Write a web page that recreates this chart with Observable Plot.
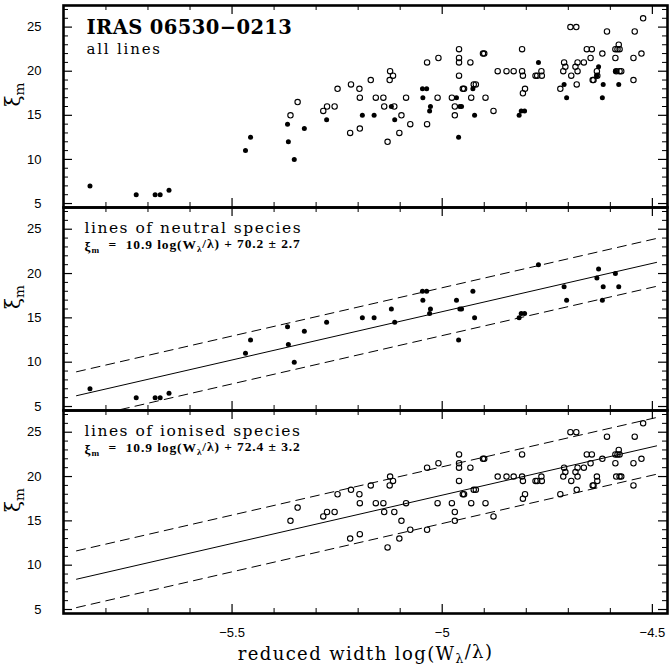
<!DOCTYPE html>
<html><head><meta charset="utf-8">
<script src="https://cdn.jsdelivr.net/npm/d3@7"></script>
<script src="https://cdn.jsdelivr.net/npm/@observablehq/plot@0.6"></script>
<style>
body{margin:0;background:#fff;}
#chart{position:relative;width:669px;height:666px;background:#fff;}
#chart svg{position:absolute;left:0;}
</style></head><body><div id="chart"></div>
<script>
// ---- data ----
const neutralX = [-5.838, -5.728, -5.683, -5.671, -5.650, -5.468, -5.456, -5.368, -5.366, -5.352,
  -5.328, -5.275, -5.190, -5.162, -5.121, -5.113, -5.047, -5.037, -5.046, -5.030,
  -5.028, -4.966, -4.961, -4.958, -4.954, -4.927, -4.923, -4.817, -4.812, -4.804,
  -4.771, -4.710, -4.704, -4.632, -4.628, -4.617, -4.619, -4.588, -4.580];
const neutralY = [7, 6, 6, 6, 6.5, 11, 12.5, 14, 12, 10,
  13.5, 14.5, 15, 15, 16, 14.5, 18, 18, 17, 15.5,
  16, 17, 12.5, 16, 16, 18, 15, 15, 15.5, 15.5,
  21, 18.5, 17, 19.5, 20.5, 18.5, 17, 20, 18.5];

const ionisedX = [-5.361, -5.344, -5.283, -5.274, -5.256, -5.249, -5.219, -5.217, -5.197, -5.196,
  -5.196, -5.170, -5.158, -5.140, -5.138, -5.130, -5.125, -5.124, -5.117, -5.114,
  -5.102, -5.097, -5.086, -5.076, -5.036, -5.036, -5.011, -5.009, -4.977, -4.970,
  -4.970, -4.960, -4.960, -4.960, -4.960, -4.951, -4.948, -4.933, -4.931, -4.925,
  -4.920, -4.903, -4.900, -4.897, -4.878, -4.868, -4.847, -4.830, -4.810, -4.810,
  -4.808, -4.808, -4.803, -4.778, -4.774, -4.764, -4.763, -4.719, -4.712, -4.710,
  -4.707, -4.695, -4.681, -4.693, -4.683, -4.680, -4.678, -4.678, -4.663, -4.656,
  -4.644, -4.647, -4.642, -4.640, -4.632, -4.631, -4.619, -4.608, -4.588, -4.588,
  -4.583, -4.580, -4.578, -4.586, -4.578, -4.574, -4.545, -4.545, -4.542, -4.526,
  -4.522];
const ionisedY = [15, 16.5, 15.5, 16, 16, 18, 13, 18.5, 18, 17,
  13.5, 19, 17, 17, 16, 12, 19, 20, 19.5, 16,
  13, 15, 17, 14, 21, 14, 17, 21.5, 17, 15,
  16, 22.5, 21.5, 21, 19.5, 18, 18, 21, 17, 18.5,
  18.5, 22, 22, 17, 15.5, 20, 20, 20, 22.5, 20,
  19.5, 17.5, 18, 19.5, 19.5, 20, 19.5, 18, 20, 21,
  20.5, 25, 25, 19.5, 20.5, 18.5, 21, 20, 21, 22.5,
  22.5, 21.5, 19, 19, 20, 19.5, 22, 24.5, 21.5, 22.5,
  22.5, 23, 22.5, 20, 20, 20, 19, 21.5, 24.5, 22,
  26];

// fit parameters printed in the panels
const fitSlope = 10.9;
const neutralIntercept = 70.2, neutralSigma = 2.7;
const ionisedIntercept = 72.4, ionisedSigma = 3.2;
const fitRange = [-5.87, -4.49];

// axes
const xDomain = [-5.901, -4.464];
const yDomain = [4.55, 27.45];
const xMajorTicks = [-5.5, -5, -4.5];
const xTickLabels = ["\u22125.5", "\u22125", "\u22124.5"];
const xMinorTicks = [-5.8, -5.7, -5.6, -5.4, -5.3, -5.2, -5.1, -4.9, -4.8, -4.7, -4.6];
const yMajorTicks = [5, 10, 15, 20, 25];
const yMinorTicks = [6, 7, 8, 9, 11, 12, 13, 14, 16, 17, 18, 19, 21, 22, 23, 24, 26, 27];

// texts
const titleText = "IRAS 06530\u22120213";
const allLinesText = "all lines";
const neutralText = "lines of neutral species";
const ionisedText = "lines of ionised species";
const neutralEq = "\u03BE_{m}  =  10.9 log(W_{\u03BB}/\u03BB) + 70.2 \u00B1 2.7";
const ionisedEq = "\u03BE_{m}  =  10.9 log(W_{\u03BB}/\u03BB) + 72.4 \u00B1 3.2";
const yLabel = "\u03BE_{m}";
const xLabel = "reduced width log(W_{\u03BB}/\u03BB)";

const neutral = neutralX.map((x, i) => ({x, y: neutralY[i]}));
const ionised = ionisedX.map((x, i) => ({x, y: ionisedY[i]}));
const fitLine = (b, off) => fitRange.map(x => ({x, y: fitSlope * x + b + off}));

const W = 669, ML = 63, MR = 2;
const innerW = W - ML - MR;
const serif = "DejaVu Serif";
const sans = "Liberation Sans";

const spacing = new Map([
  [titleText, "0.4px"], [allLinesText, "1.8px"], [neutralText, "1.5px"], [ionisedText, "1.5px"],
  [xLabel, "1.4px"], [neutralEq, "0.9px"], [ionisedEq, "0.9px"]
]);

function frameMarks(innerH) {
  const maj = 9, min = 5;
  return [
    Plot.tickX(xMajorTicks, {x: d => d, insetBottom: innerH - maj, strokeWidth: 1.2}),
    Plot.tickX(xMajorTicks, {x: d => d, insetTop: innerH - maj, strokeWidth: 1.2}),
    Plot.tickX(xMinorTicks, {x: d => d, insetBottom: innerH - min, strokeWidth: 1}),
    Plot.tickX(xMinorTicks, {x: d => d, insetTop: innerH - min, strokeWidth: 1}),
    Plot.tickY(yMajorTicks, {y: d => d, insetRight: innerW - maj, strokeWidth: 1.2}),
    Plot.tickY(yMajorTicks, {y: d => d, insetLeft: innerW - maj, strokeWidth: 1.2}),
    Plot.tickY(yMinorTicks, {y: d => d, insetRight: innerW - min, strokeWidth: 1}),
    Plot.tickY(yMinorTicks, {y: d => d, insetLeft: innerW - min, strokeWidth: 1}),
    Plot.axisY({ticks: yMajorTicks, tickSize: 0, tickPadding: 22, label: null, fontSize: 13, fontFamily: sans}),
    Plot.text([yLabel], {frameAnchor: "left", dx: -50, rotate: -90, fontSize: 20, fontFamily: serif}),
    Plot.frame({strokeWidth: 2.6})
  ];
}

function fitMarks(b, s) {
  return [
    Plot.line(fitLine(b, 0), {x: "x", y: "y", stroke: "black", strokeWidth: 1, clip: true}),
    Plot.line(fitLine(b, s), {x: "x", y: "y", stroke: "black", strokeWidth: 1, strokeDasharray: "9,6", clip: true}),
    Plot.line(fitLine(b, -s), {x: "x", y: "y", stroke: "black", strokeWidth: 1, strokeDasharray: "9,6", clip: true})
  ];
}

const neutralDots = Plot.dot(neutral, {x: "x", y: "y", r: 2.5, fill: "black", stroke: null});
const ionisedDots = Plot.dot(ionised, {x: "x", y: "y", r: 2.7, fill: "none", stroke: "black", strokeWidth: 1.1});

function makePlot({height, marginTop, marginBottom, top, marks, xAxis}) {
  const innerH = height - marginTop - marginBottom;
  const svg = Plot.plot({
    width: W, height, marginLeft: ML, marginRight: MR, marginTop, marginBottom,
    style: {background: "transparent", overflow: "visible"},
    x: {domain: xDomain, axis: null},
    y: {domain: yDomain, axis: null},
    marks: [
      ...frameMarks(innerH),
      ...marks,
      xAxis ? Plot.axisX({ticks: xMajorTicks, tickFormat: (d, i) => xTickLabels[i], tickSize: 0, tickPadding: 14, label: null, fontSize: 13, fontFamily: sans}) : null,
      xAxis ? Plot.text([xLabel], {frameAnchor: "bottom", dy: 46, lineAnchor: "bottom", fontSize: 18, fontFamily: serif}) : null
    ]
  });
  svg.style.top = top + "px";
  postProcess(svg);
  document.getElementById("chart").appendChild(svg);
}

function postProcess(svg) {
  d3.select(svg).selectAll("text").each(function () {
    const t = this.textContent;
    if (spacing.has(t)) this.style.letterSpacing = spacing.get(t);
    if (!t.includes("_{")) return;
    const parts = t.split(/(_\{[^}]*\})/).filter(p => p.length);
    this.textContent = "";
    const sel = d3.select(this);
    let shifted = false;
    for (const p of parts) {
      if (p.startsWith("_{")) {
        sel.append("tspan").attr("dy", "0.3em").attr("font-size", "68%").text(p.slice(2, -1));
        shifted = true;
      } else {
        const ts = sel.append("tspan").text(p);
        if (shifted) { ts.attr("dy", "-0.3em"); shifted = false; }
      }
    }
  });
}

makePlot({
  height: 207, marginTop: 5, marginBottom: 0, top: 0,
  marks: [
    ionisedDots, neutralDots,
    Plot.text([titleText], {frameAnchor: "top-left", dx: 23, dy: 28, lineAnchor: "bottom", textAnchor: "start", fontSize: 19.5, fontFamily: serif, fontWeight: "bold"}),
    Plot.text([allLinesText], {frameAnchor: "top-left", dx: 23, dy: 48, lineAnchor: "bottom", textAnchor: "start", fontSize: 15, fontFamily: serif})
  ]
});
makePlot({
  height: 203, marginTop: 0, marginBottom: 0, top: 207,
  marks: [
    ...fitMarks(neutralIntercept, neutralSigma), neutralDots,
    Plot.text([neutralText], {frameAnchor: "top-left", dx: 21, dy: 25, lineAnchor: "bottom", textAnchor: "start", fontSize: 15.5, fontFamily: serif}),
    Plot.text([neutralEq], {frameAnchor: "top-left", dx: 21, dy: 43, lineAnchor: "bottom", textAnchor: "start", fontSize: 13.5, fontFamily: "Liberation Serif", fontWeight: "bold"})
  ]
});
makePlot({
  height: 256, marginTop: 0, marginBottom: 53, top: 410, xAxis: true,
  marks: [
    ...fitMarks(ionisedIntercept, ionisedSigma), ionisedDots,
    Plot.text([ionisedText], {frameAnchor: "top-left", dx: 21, dy: 25, lineAnchor: "bottom", textAnchor: "start", fontSize: 15.5, fontFamily: serif}),
    Plot.text([ionisedEq], {frameAnchor: "top-left", dx: 21, dy: 43, lineAnchor: "bottom", textAnchor: "start", fontSize: 13.5, fontFamily: "Liberation Serif", fontWeight: "bold"})
  ]
});
</script></body></html>
